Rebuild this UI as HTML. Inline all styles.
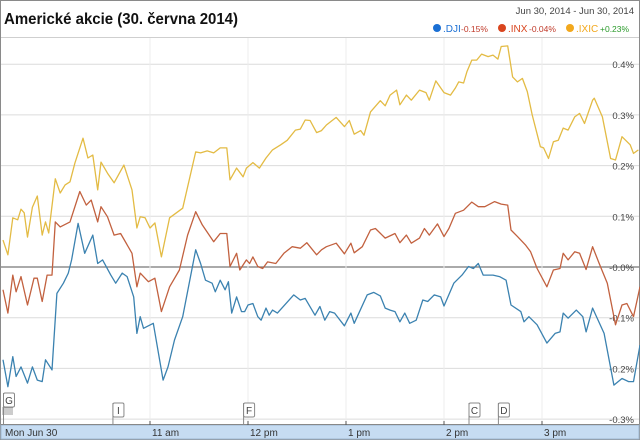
<!DOCTYPE html>
<html><head><meta charset="utf-8"><style>
html,body{margin:0;padding:0;background:#fff;}
svg{display:block;font-family:"Liberation Sans",sans-serif;}
</style></head><body>
<svg id="chart" width="640" height="440" viewBox="0 0 640 440">
<rect x="0.5" y="0.5" width="639" height="439" fill="#fff" stroke="#8a8a8a"/>
<text x="4" y="24" font-size="16" font-weight="bold" fill="#111" textLength="234" lengthAdjust="spacingAndGlyphs">Americké akcie (30. června 2014)</text>
<text x="634" y="14" font-size="9.5" fill="#444" text-anchor="end">Jun 30, 2014  -  Jun 30, 2014</text>
<g font-size="10">
<g><circle cx="437" cy="28" r="4" fill="#1a6fd4"/><text x="443" y="32" fill="#1a6fd4">.DJI</text><text x="461" y="32" font-size="8.5" fill="#c03a2a">-0.15%</text></g>
<g><circle cx="502" cy="28" r="4" fill="#d9451e"/><text x="508" y="32" fill="#d9451e">.INX</text><text x="529" y="32" font-size="8.5" fill="#c03a2a">-0.04%</text></g>
<g><circle cx="570" cy="28" r="4" fill="#f2a81d"/><text x="576" y="32" fill="#f2a81d">.IXIC</text><text x="600" y="32" font-size="8.5" fill="#2a9a2a">+0.23%</text></g>
</g>
<line x1="1" y1="37.5" x2="639" y2="37.5" stroke="#cfcfcf"/>
<g id="grid"></g>
<g id="series"></g>
<g id="flags"></g>
<g id="xaxis"></g>
</svg>
<script>
const NS="http://www.w3.org/2000/svg";
// minutes after 9:30
const yTicks=[0.4,0.3,0.2,0.1,0.0,-0.1,-0.2,-0.3];
const yTickLabels=["0.4%","0.3%","0.2%","0.1%","-0.0%","-0.1%","-0.2%","-0.3%"];
const xTicks=[90,150,210,270,330];
const xTickLabels=["11 am","12 pm","1 pm","2 pm","3 pm"];
const flagNames=["G","I","F","C","D"];
const flagTimes=[0,67,147,285,303];
const ixicTimes=[0,3,6,9,11,13,15,18,21,24,26,28,32,35,38,41,44,49,52,55,58,60,64,68,74,79,82,84,87,90,93,97,102,110,118,121,125,129,133,137,139,143,147,149,153,157,161,165,170,174,179,182,185,188,192,195,198,204,209,212,215,219,221,225,231,234,237,241,243,247,250,255,259,261,265,270,274,277,279,282,284,287,290,293,297,300,303,305,309,312,315,318,321,324,329,331,334,337,340,343,346,350,353,356,361,362,367,372,375,379,384,386,389];
const ixicValues=[0.053,0.024,0.097,0.093,0.114,0.107,0.059,0.118,0.140,0.063,0.089,0.067,0.174,0.146,0.162,0.168,0.205,0.254,0.215,0.221,0.152,0.207,0.185,0.166,0.201,0.152,0.077,0.099,0.097,0.077,0.087,0.020,0.097,0.116,0.227,0.225,0.229,0.225,0.235,0.235,0.172,0.195,0.178,0.195,0.206,0.195,0.215,0.231,0.241,0.250,0.270,0.272,0.290,0.289,0.265,0.269,0.280,0.295,0.277,0.289,0.262,0.269,0.260,0.306,0.328,0.318,0.339,0.349,0.320,0.339,0.329,0.349,0.344,0.329,0.367,0.344,0.339,0.353,0.365,0.363,0.385,0.408,0.408,0.420,0.415,0.418,0.410,0.435,0.436,0.375,0.365,0.372,0.346,0.300,0.237,0.235,0.214,0.247,0.250,0.274,0.270,0.296,0.303,0.283,0.329,0.333,0.296,0.214,0.211,0.257,0.241,0.224,0.231];
const inxTimes=[0,3,6,8,11,15,19,21,24,27,30,32,35,41,47,51,54,58,60,64,68,72,79,82,84,89,93,97,102,108,113,118,122,129,133,137,139,143,145,149,151,153,156,159,162,167,172,177,182,186,192,195,198,204,209,213,215,220,225,228,234,240,243,247,250,255,258,261,266,270,273,277,282,287,291,295,301,305,309,311,315,320,323,327,333,337,341,343,346,350,353,357,361,365,370,375,379,382,386,390];
const inxValues=[-0.045,-0.091,-0.016,-0.049,-0.019,-0.075,-0.022,-0.022,-0.068,-0.016,-0.016,0.089,0.079,0.089,0.149,0.122,0.132,0.089,0.119,0.099,0.063,0.066,0.027,-0.039,-0.012,-0.029,-0.022,-0.088,-0.039,-0.006,0.063,0.109,0.083,0.050,0.066,0.066,0.001,0.027,-0.006,0.014,0.007,0.020,0.001,-0.003,0.010,0.007,0.027,0.040,0.037,0.048,0.024,0.034,0.040,0.047,0.026,0.047,0.028,0.040,0.073,0.076,0.057,0.066,0.048,0.063,0.047,0.057,0.076,0.063,0.085,0.060,0.076,0.106,0.112,0.128,0.119,0.119,0.129,0.124,0.122,0.073,0.060,0.043,0.030,-0.003,-0.039,-0.006,-0.003,0.027,0.014,0.030,0.027,-0.005,0.040,0.007,-0.032,-0.114,-0.075,-0.072,-0.098,-0.039];
const djiTimes=[0,3,6,8,11,15,18,21,24,26,30,33,37,40,42,46,50,55,58,61,66,69,73,76,80,82,84,86,92,98,101,105,110,118,121,124,128,130,133,136,138,140,143,146,148,150,153,156,158,161,163,165,168,178,182,185,191,194,197,200,203,209,213,215,223,227,231,234,237,240,243,246,249,253,257,260,264,268,270,276,281,285,288,291,294,300,304,308,311,317,319,322,327,333,338,341,343,346,351,355,357,361,368,374,379,383,386,390];
const djiValues=[-0.183,-0.236,-0.177,-0.216,-0.197,-0.229,-0.197,-0.223,-0.226,-0.183,-0.203,-0.052,-0.032,-0.012,0.014,0.086,0.027,0.063,0.007,0.014,-0.016,-0.032,-0.012,-0.019,-0.059,-0.131,-0.098,-0.121,-0.111,-0.223,-0.197,-0.144,-0.098,0.034,0.007,-0.026,-0.032,-0.049,-0.026,-0.045,-0.029,-0.091,-0.059,-0.088,-0.088,-0.075,-0.072,-0.098,-0.105,-0.081,-0.095,-0.085,-0.091,-0.055,-0.065,-0.062,-0.095,-0.078,-0.105,-0.088,-0.091,-0.116,-0.091,-0.111,-0.055,-0.050,-0.057,-0.081,-0.085,-0.088,-0.108,-0.091,-0.111,-0.105,-0.065,-0.068,-0.055,-0.059,-0.077,-0.032,-0.016,0.001,-0.003,0.007,-0.016,-0.016,-0.019,-0.026,-0.075,-0.088,-0.108,-0.098,-0.114,-0.150,-0.131,-0.128,-0.091,-0.101,-0.085,-0.098,-0.128,-0.081,-0.131,-0.233,-0.220,-0.226,-0.226,-0.154];

function xs(t){return 3+t*(98/60);}
function ys(v){return 267-v*507;}
function mk(tag,attrs,parent){const e=document.createElementNS(NS,tag);for(const k in attrs)e.setAttribute(k,attrs[k]);parent.appendChild(e);return e;}

const grid=document.getElementById('grid');
yTicks.forEach((v,i)=>{
  const isZero=v===0;
  const l=mk('line',{x1:1,x2:639,y1:ys(v),y2:ys(v),stroke:isZero?'#777':'#dcdcdc','stroke-width':isZero?1.3:1},grid);
  
  
  const t=mk('text',{x:634,y:ys(v)+4,'font-size':9.5,fill:'#444','text-anchor':'end'},grid);
  t.textContent=yTickLabels[i];
  
  
});
xTicks.forEach(tm=>{
  const l=mk('line',{x1:xs(tm),x2:xs(tm),y1:38,y2:424,stroke:'#ececec'},grid);
  
  
});

const series=document.getElementById('series');
function drawLine(times,vals,color,name){
  const d=times.map((tm,i)=>(i?'L':'M')+xs(tm).toFixed(1)+','+ys(vals[i]).toFixed(1)).join(' ');
  const p=mk('path',{d:d,fill:'none',stroke:color,'stroke-width':1.3,'stroke-linejoin':'round'},series);
  
  
}
drawLine(ixicTimes,ixicValues,'#e3bb44','ixic-line');
drawLine(inxTimes,inxValues,'#c2613f','inx-line');
drawLine(djiTimes,djiValues,'#3b82b0','dji-line');

const xa=document.getElementById('xaxis');
const bar=mk('rect',{x:1,y:425,width:638,height:14,fill:'#c6dcf2',stroke:'#9fb8d2'},xa);


const bl=mk('line',{x1:1,x2:639,y1:424.5,y2:424.5,stroke:'#888'},xa);


const first=mk('text',{x:5,y:436,'font-size':10,fill:'#333'},xa);
first.textContent='Mon Jun 30';


xTicks.forEach((tm,i)=>{
  const tk=mk('line',{x1:xs(tm),x2:xs(tm),y1:421,y2:425,stroke:'#555'},xa);
  
  
  const t=mk('text',{x:xs(tm)+2,y:436,'font-size':10,fill:'#333'},xa);
  t.textContent=xTickLabels[i];
  
  
});

const fl=document.getElementById('flags');
flagNames.forEach((n,i)=>{
  const x=xs(flagTimes[i]);
  const g=mk('g',{},fl);
  
  
  const top=n==='G'?393:403;
  if(n==='G'){
    for(let k=0;k<4;k++){mk('line',{x1:2,x2:13,y1:408+k*2,y2:408+k*2,stroke:'#999'},g);}
  }
  mk('line',{x1:x+0.5,x2:x+0.5,y1:top,y2:425,stroke:'#888'},g);
  mk('rect',{x:x+0.5,y:top,width:11,height:14,rx:1.5,fill:'#fff',stroke:'#888'},g);
  const t=mk('text',{x:x+6,y:top+11,'font-size':10,fill:'#444','text-anchor':'middle'},g);
  t.textContent=n;
});
</script>
</body></html>
